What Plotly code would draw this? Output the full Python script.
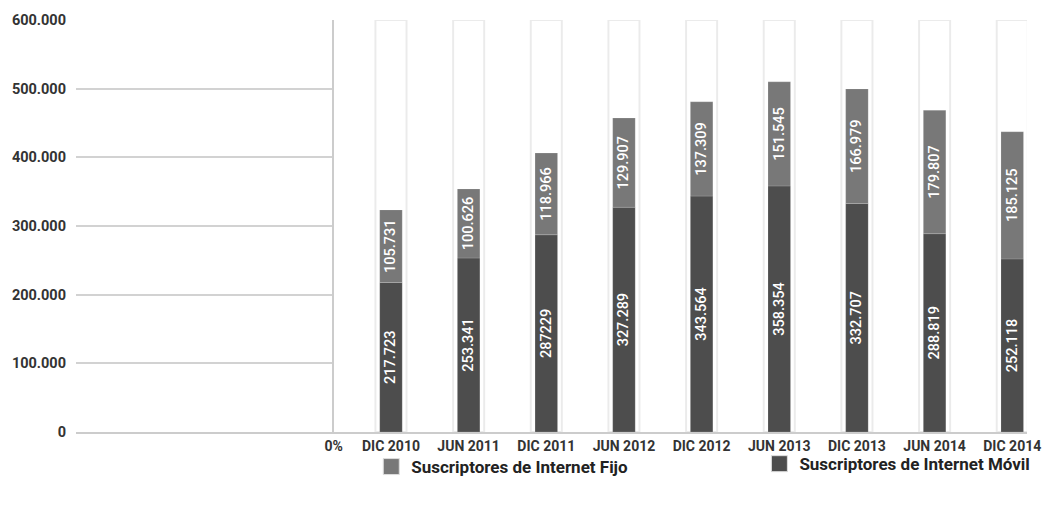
import plotly.graph_objects as go

categories = ["DIC 2010", "JUN 2011", "DIC 2011", "JUN 2012", "DIC 2012",
              "JUN 2013", "DIC 2013", "JUN 2014", "DIC 2014"]
movil = [217723, 253341, 287229, 327289, 343564, 358354, 332707, 288819, 252118]
fijo = [105731, 100626, 118966, 129907, 137309, 151545, 166979, 179807, 185125]
movil_labels = ["217.723", "253.341", "287229", "327.289", "343.564",
                "358.354", "332.707", "288.819", "252.118"]
fijo_labels = ["105.731", "100.626", "118.966", "129.907", "137.309",
               "151.545", "166.979", "179.807", "185.125"]
y_max = 600000
y_ticks = [0, 100000, 200000, 300000, 400000, 500000, 600000]
left_tick_label = "0%"
legend_names = ["Suscriptores de Internet Fijo", "Suscriptores de Internet Móvil"]

FONT = "Roboto"
C_FIJO = "#787878"
C_MOVIL = "#4d4d4d"
TXT = "#333333"

fig = go.Figure()

# empty left panel (keeps the left axes drawn)
fig.add_trace(go.Scatter(x=[None], y=[None], xaxis="x", yaxis="y",
                         mode="markers", showlegend=False, hoverinfo="skip"))

# white background columns
fig.add_trace(go.Bar(
    x=categories, y=[y_max] * len(categories), xaxis="x2", yaxis="y2",
    width=0.40, marker=dict(color="white", line=dict(color="rgba(0,0,0,0.08)", width=2)),
    showlegend=False, hoverinfo="skip"))

fig.add_trace(go.Bar(
    x=categories, y=movil, xaxis="x2", yaxis="y2", width=0.29,
    marker=dict(color=C_MOVIL, line=dict(color="rgba(255,255,255,0.15)", width=1)),
    text=movil_labels, textposition="inside", insidetextanchor="middle",
    textangle=-90, constraintext="none",
    textfont=dict(family=FONT, size=14.5, color="white", weight=500),
    showlegend=False))

fig.add_trace(go.Bar(
    x=categories, y=fijo, base=movil, xaxis="x2", yaxis="y2", width=0.29,
    marker=dict(color=C_FIJO, line=dict(color="rgba(255,255,255,0.15)", width=1)),
    text=fijo_labels, textposition="inside", insidetextanchor="middle",
    textangle=-90, constraintext="none",
    textfont=dict(family=FONT, size=14.5, color="white", weight=500),
    showlegend=False))

# legend-only entries
fig.add_trace(go.Scatter(
    x=[None], y=[None], xaxis="x2", yaxis="y2", mode="markers", name=legend_names[0],
    marker=dict(symbol="square", size=16, color=C_FIJO, line=dict(color="#dddddd", width=1)),
    legend="legend"))
fig.add_trace(go.Scatter(
    x=[None], y=[None], xaxis="x2", yaxis="y2", mode="markers", name=legend_names[1],
    marker=dict(symbol="square", size=16, color=C_MOVIL, line=dict(color="#dddddd", width=1)),
    legend="legend2"))

split = (333 - 72) / 963

fig.update_layout(
    width=1053, height=506,
    margin=dict(l=72, r=18, t=17, b=74),
    paper_bgcolor="white", plot_bgcolor="white",
    separators=",.",
    barmode="overlay",
    font=dict(family=FONT, size=13, color=TXT),
    xaxis=dict(domain=[0, split], range=[-1, 0], tickvals=[0], ticktext=[left_tick_label],
               showgrid=False, zeroline=False, showline=True, linecolor="#cccccc",
               linewidth=2, ticks="", tickfont=dict(family=FONT, size=14, color=TXT, weight="bold"),
               fixedrange=True),
    yaxis=dict(anchor="x", range=[0, y_max], tickvals=y_ticks, tickformat=",d",
               showgrid=True, gridcolor="#d2d2d2", gridwidth=1.5, zeroline=False,
               showline=False, ticks="", ticklabelstandoff=9,
               tickfont=dict(family=FONT, size=14.5, color=TXT, weight="bold")),
    xaxis2=dict(domain=[split, 1], anchor="y2", type="category",
                range=[-0.737, 8.19], showgrid=False, zeroline=False,
                showline=True, linecolor="#cccccc", linewidth=2, ticks="",
                tickfont=dict(family=FONT, size=14, color=TXT, weight="bold")),
    yaxis2=dict(anchor="x2", range=[0, y_max], showgrid=False, zeroline=False,
                showline=True, linecolor="#cccccc", linewidth=1.5,
                showticklabels=False, ticks=""),
    legend=dict(x=(371 - 72) / 963, y=-0.085, xanchor="left", yanchor="middle",
                orientation="h", bgcolor="rgba(0,0,0,0)",
                font=dict(family=FONT, size=17, color="#222222", weight="bold")),
    legend2=dict(x=(764 - 72) / 963, y=-0.078, xanchor="left", yanchor="middle",
                 orientation="h", bgcolor="rgba(0,0,0,0)",
                 font=dict(family=FONT, size=17, color="#222222", weight="bold")),
)

fig.write_html("out.html")
